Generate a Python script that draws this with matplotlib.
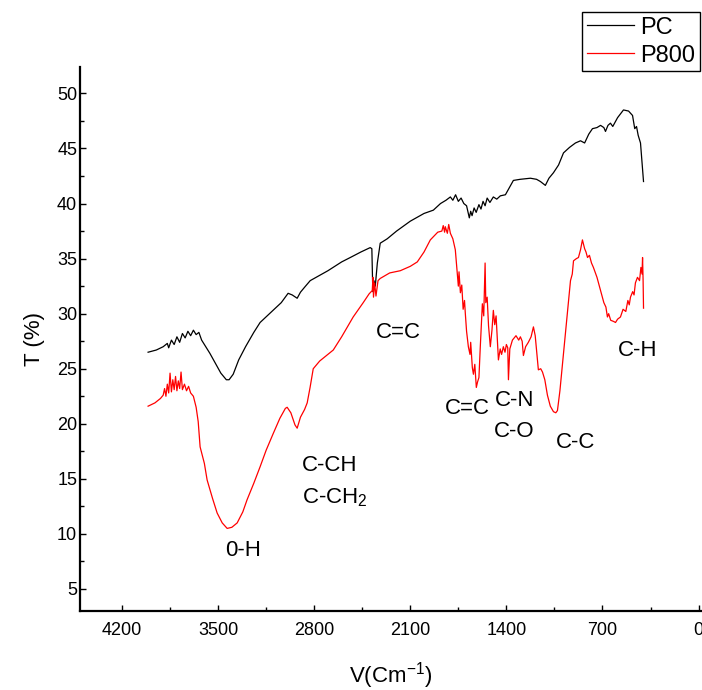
import numpy as np
import matplotlib.pyplot as plt

# FTIR spectra of PC and P800 samples
plt.rcParams['font.family'] = ['Liberation Sans', 'DejaVu Sans']
plt.rcParams['mathtext.fontset'] = 'custom'
plt.rcParams['mathtext.rm'] = 'Liberation Sans'
plt.rcParams['mathtext.it'] = 'Liberation Sans'

pc_wn = [4010, 3950, 3900, 3870, 3860, 3840, 3820, 3800, 3780, 3760, 3740, 3720, 3700, 3680,
         3660, 3640, 3620, 3600, 3560, 3520, 3480, 3440, 3420, 3390, 3350, 3300, 3240, 3194,
         3100, 3040, 2990, 2960, 2924, 2900, 2870, 2829, 2700, 2600, 2537, 2460, 2392, 2380,
         2373, 2365, 2355, 2340, 2319, 2268, 2200, 2100, 2000, 1932, 1880, 1840, 1808, 1790,
         1770, 1750, 1730, 1710, 1690, 1670, 1660, 1650, 1635, 1620, 1600, 1585, 1570, 1555,
         1540, 1520, 1495, 1470, 1444, 1407, 1349, 1300, 1225, 1180, 1152, 1116, 1090, 1057,
         1020, 984, 940, 897, 860, 830, 800, 773, 740, 714, 690, 678, 660, 642, 625, 590, 547,
         510, 481, 465, 452, 440, 423, 401]
pc_t = [26.5, 26.7, 27.0, 27.3, 26.9, 27.6, 27.2, 27.9, 27.4, 28.2, 27.8, 28.4, 28.0, 28.5,
        28.1, 28.3, 27.6, 27.2, 26.4, 25.5, 24.6, 24.0, 24.0, 24.5, 25.8, 27.0, 28.3, 29.2,
        30.3, 31.0, 31.85, 31.7, 31.4, 31.95, 32.4, 33.0, 33.9, 34.7, 35.1, 35.6, 36.0, 35.9,
        32.0, 33.0, 32.5, 34.6, 36.4, 36.8, 37.5, 38.4, 39.1, 39.4, 40.0, 40.3, 40.6, 40.3,
        40.8, 40.2, 40.5, 40.0, 39.8, 38.7, 39.3, 38.9, 39.6, 39.2, 39.9, 39.5, 40.2, 39.8,
        40.5, 40.1, 40.6, 40.4, 40.7, 40.8, 42.1, 42.2, 42.3, 42.2, 42.0, 41.65, 42.3, 42.8,
        43.5, 44.6, 45.1, 45.5, 45.7, 45.5, 46.3, 46.8, 46.9, 47.1, 46.9, 46.55, 47.1, 47.3,
        47.0, 47.8, 48.5, 48.4, 48.0, 46.8, 47.0, 46.2, 45.5, 42.0]

p800_wn = [4010, 3960, 3920, 3900, 3890, 3880, 3870, 3860, 3850, 3840, 3830, 3820, 3810, 3800,
           3790, 3780, 3770, 3760, 3745, 3730, 3715, 3700, 3680, 3660, 3645, 3631, 3600, 3580,
           3540, 3507, 3470, 3434, 3400, 3361, 3320, 3289, 3240, 3194, 3150, 3099, 3050, 3010,
           2997, 2970, 2940, 2924, 2900, 2870, 2851, 2830, 2807, 2760, 2700, 2661, 2600, 2516,
           2443, 2400, 2377, 2372, 2368, 2360, 2350, 2335, 2319, 2250, 2173, 2100, 2049, 2000,
           1954, 1900, 1870, 1860, 1850, 1845, 1830, 1820, 1808, 1790, 1772, 1760, 1750, 1745,
           1735, 1725, 1715, 1705, 1699, 1690, 1677, 1665, 1660, 1648, 1640, 1630, 1619, 1610,
           1600, 1590, 1575, 1565, 1555, 1550, 1540, 1530, 1517, 1505, 1495, 1485, 1475, 1466,
           1458, 1445, 1435, 1422, 1410, 1400, 1390, 1385, 1375, 1356, 1330, 1310, 1298, 1285,
           1276, 1260, 1240, 1220, 1203, 1190, 1175, 1167, 1150, 1137, 1120, 1101, 1080, 1057,
           1040, 1028, 1010, 984, 960, 933, 920, 911, 890, 875, 860, 846, 830, 820, 809, 795,
           780, 766, 740, 714, 690, 675, 664, 655, 640, 620, 605, 590, 569, 550, 530, 515, 505,
           496, 480, 470, 460, 445, 430, 420, 412, 408, 404, 401]
p800_t = [21.6, 21.9, 22.3, 22.6, 23.2, 22.5, 23.6, 22.8, 24.6, 22.9, 24.0, 23.1, 24.3, 23.0,
          23.9, 23.2, 24.7, 23.1, 23.6, 23.0, 23.4, 22.8, 22.5, 21.5, 20.2, 17.9, 16.4, 14.9,
          13.2, 11.9, 11.0, 10.5, 10.6, 11.0, 12.0, 13.1, 14.6, 16.1, 17.6, 19.1, 20.5, 21.4,
          21.5, 21.0, 19.9, 19.6, 20.6, 21.3, 21.9, 23.3, 25.0, 25.7, 26.3, 26.7, 27.9, 29.7,
          31.0, 31.8, 32.1, 33.3, 31.5, 32.8, 31.6, 33.0, 33.2, 33.7, 33.9, 34.3, 34.7, 35.6,
          36.7, 37.4, 37.5, 38.0, 37.4, 37.9, 37.3, 38.1, 37.3, 36.8, 35.8, 34.0, 32.5, 33.8,
          31.9, 32.6, 30.4, 31.2, 30.0, 28.4, 27.0, 26.3, 27.4, 25.1, 24.5, 25.4, 23.3, 23.8,
          24.2, 27.0, 30.9, 29.8, 34.6, 31.0, 31.5, 28.9, 27.0, 28.5, 30.3, 29.0, 29.8, 27.6,
          25.8, 26.8, 26.3, 27.0, 26.5, 27.2, 26.9, 24.0, 26.8, 27.6, 28.0, 27.6, 27.9, 27.5,
          26.2, 27.0, 27.4, 27.9, 28.8, 28.0, 26.0, 24.9, 25.0, 24.7, 24.0, 22.6, 21.6, 21.1,
          21.0, 21.2, 23.0, 26.4, 29.5, 33.0, 33.6, 34.8, 35.0, 35.1, 35.8, 36.7, 35.9, 35.6,
          35.1, 35.3, 34.6, 34.2, 33.3, 32.1, 31.0, 30.6, 29.7, 30.0, 29.4, 29.3, 29.2, 29.5,
          29.7, 30.4, 30.2, 31.2, 30.8, 31.5, 32.0, 31.7, 32.8, 33.3, 33.0, 34.2, 33.6, 35.1,
          33.0, 30.5]

band_labels = ['0-H', 'C-CH\nC-CH$_2$', 'C=C', 'C=C', 'C-N\nC-O', 'C-C', 'C-H']
band_x = [3318, 2888, 2187, 1684, 1342, 897, 445]
band_y = [8.5, 14.7, 28.3, 21.4, 20.7, 18.3, 26.7]

fig = plt.figure(figsize=(7.02, 6.9), dpi=100)
ax = fig.add_axes([80/702, 79/690, 1 - 80/702, 544/690])

ax.plot(pc_wn, pc_t, color='black', lw=0.9, label='PC')
ax.plot(p800_wn, p800_t, color='red', lw=0.9, label='P800')

for lab, x, y in zip(band_labels, band_x, band_y):
    ha = 'left' if lab.startswith('C-CH') else 'center'
    ax.text(x, y, lab, fontsize=16, ha=ha, va='center', linespacing=1.6)

ax.set_xlim(4506, -25)
ax.set_ylim(3.0, 52.4)
ax.set_xticks(np.arange(0, 4201, 700))
ax.set_xticks(np.arange(350, 4300, 700), minor=True)
ax.set_yticks(np.arange(5, 51, 5))
ax.set_yticks(np.arange(7.5, 51, 5), minor=True)
ax.tick_params(direction='in', length=4, width=1, labelsize=13, pad=8)
ax.tick_params(which='minor', direction='in', length=3, width=1)
ax.tick_params(axis='y', pad=2)
for s in ['top', 'right']:
    ax.spines[s].set_visible(False)
for s in ['left', 'bottom']:
    ax.spines[s].set_linewidth(1.6)

ax.set_xlabel('V(Cm$^{-1}$)', fontsize=16, labelpad=15)
ax.set_ylabel('T (%)', fontsize=16, labelpad=9)

fig.legend(loc='upper right', bbox_to_anchor=(700/702, 1 - 12/690), fontsize=17,
           frameon=True, fancybox=False, edgecolor='black', framealpha=1,
           handlelength=2.0, handletextpad=0.25, labelspacing=0.25, borderpad=0.2,
           borderaxespad=0)

fig.savefig('out.png', dpi=100)
